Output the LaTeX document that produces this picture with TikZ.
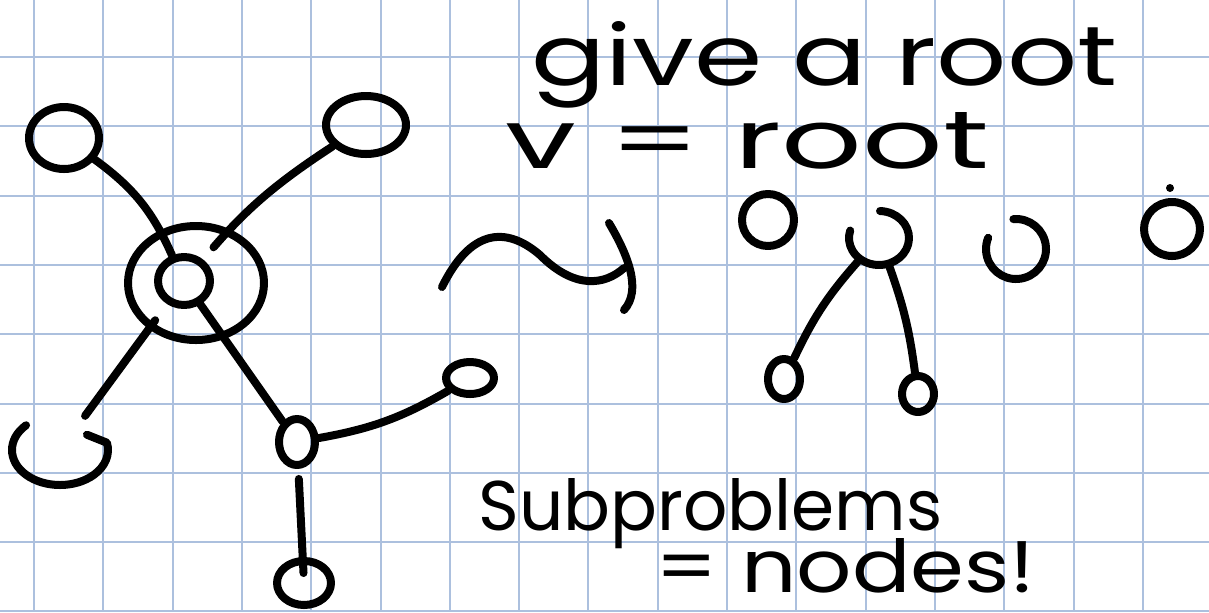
\documentclass[tikz,border=0pt]{standalone}
\usepackage{fontspec}
\usepackage{graphicx}
\usetikzlibrary{shapes.geometric}
\newfontfamily\handfont{Poppins}
\definecolor{gridblue}{RGB}{172,192,222}

\begin{document}
\begin{tikzpicture}[
  x=0.5pt, y=-0.5pt,
  ink/.style={line width=4pt, line cap=round, line join=round},
  vert/.style 2 args={ellipse, draw, ink, inner sep=0pt, minimum width=#1pt, minimum height=#2pt},
  openvert/.style 2 args={ellipse, inner sep=0pt, outer sep=2pt, minimum width=#1pt, minimum height=#2pt},
  gridline/.style={gridblue, line width=1pt},
  hand/.style={font=\handfont, anchor=base west, inner sep=0pt}
]
  % Paper
  \fill[white] (0,0) rectangle (1209,612);
  \useasboundingbox (0,0) rectangle (1209,612);
  \foreach \k in {0,...,16} {
    \draw[gridline] ({34+69.3*\k},0) -- ({34+69.3*\k},612);
  }
  \foreach \k in {0,...,8} {
    \draw[gridline] (0,{57+69.3*\k}) -- (1209,{57+69.3*\k});
  }

  % Graph before
  \node[vert={35}{31}] (tl) at (64,138) {};
  \node[vert={40}{29}] (tr) at (366,125) {};
  \node[vert={68}{57}] (ring) at (196,283) {};
  \node[vert={26}{24}] (ctr) at (184,281) {};
  \node[openvert={48}{35}] (bl) at (60,450) {};
  \draw[ink] (bl.center) ++(-135:48 and 35)
    arc[start angle=-135, end angle=-372, x radius=48, y radius=35] -- ++(-20,-8);
  \node[vert={18}{23}] (mb) at (297,442) {};
  \node[vert={24}{16}] (sr) at (470,378) {};
  \node[vert={27}{22}] (bot) at (304,583) {};

  \draw[ink] (tl) to[bend left=15] (ctr);
  \draw[ink, shorten >=8pt] (tr) to[bend right=8] (ctr);
  \draw[ink, shorten <=10pt] (ctr) -- (bl);
  \draw[ink] (ctr) -- (mb);
  \draw[ink] (mb) to[bend right=10] (sr);
  \draw[ink, shorten <=5pt, shorten >=-8pt] (mb) -- (bot);

  % Squiggly arrow
  \coordinate (wavein) at (442,287);
  \coordinate (waveout) at (624,268);
  \coordinate (tiptop) at (609,223);
  \coordinate (tipbot) at (624,310);
  \draw[ink] (wavein) .. controls (470,230) and (505,225) .. (540,255)
    .. controls (575,290) and (605,285) .. (waveout);
  \draw[ink] (tiptop) .. controls (628,255) and (642,290) .. (tipbot);

  % Rooted forest
  \node[vert={26}{26}] (o1) at (768,220) {};
  \node[openvert={30}{27}] (root) at (879,238) {};
  \draw[ink] (root.center) ++(-88:30 and 27)
    arc[start angle=-88, end angle=196, x radius=30, y radius=27];
  \node[openvert={30}{30}] (u) at (1016,249) {};
  \draw[ink] (u.center) ++(-95:30 and 30)
    arc[start angle=-95, end angle=202, x radius=30, y radius=30];
  \node[vert={28}{27}] (o2) at (1172,229) {};
  \fill (1170,188) circle[radius=4];
  \node[vert={16}{20}] (bc1) at (784,379) {};
  \node[vert={16}{18}] (bc2) at (918,394) {};

  \draw[ink] (root) to[bend right=8] (bc1);
  \draw[ink] (root) to[bend left=6] (bc2);

  % Notes
  \node[hand] (give) at (531,85) {\resizebox{293pt}{32pt}{give a root}};
  \node[hand] (vroot) at (505,168) {\resizebox{242pt}{28pt}{v = root}};
  \node[hand] (sub) at (478,530) {\resizebox{232pt}{26pt}{Subproblems}};
  \node[hand] (eqn) at (655,592) {\resizebox{190pt}{27pt}{= nodes!}};
\end{tikzpicture}
\end{document}
